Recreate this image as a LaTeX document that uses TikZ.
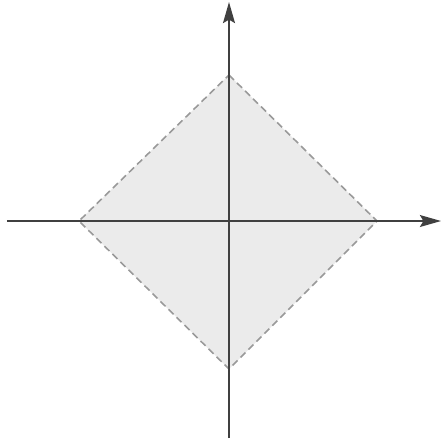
\documentclass[tikz,border=0pt]{standalone}
\usepackage{tikz}
\usetikzlibrary{arrows.meta}

\begin{document}
\begin{tikzpicture}[x=0.01cm,y=-0.01cm,line width=0.45pt]
\useasboundingbox (0,0) rectangle (442,441);
% shaded region |x|+|y| <= 1
\coordinate (top) at (229,75);
\coordinate (right) at (377,221);
\coordinate (bottom) at (229,369);
\coordinate (left) at (79,221);
\filldraw[fill=gray!16,draw=gray!80,dash pattern=on 2pt off 1.2pt] (top) -- (right) -- (bottom) -- (left) -- cycle;
% axes
\coordinate (xs) at (7,221);
\coordinate (xe) at (441,221);
\coordinate (ys) at (229,438);
\coordinate (ye) at (229,2);
\draw[black!75,-{Stealth[length=6pt,width=3.4pt,inset=1pt]}] (xs) -- (xe);
\draw[black!75,-{Stealth[length=6pt,width=3.4pt,inset=1pt]}] (ys) -- (ye);
\end{tikzpicture}
\end{document}
